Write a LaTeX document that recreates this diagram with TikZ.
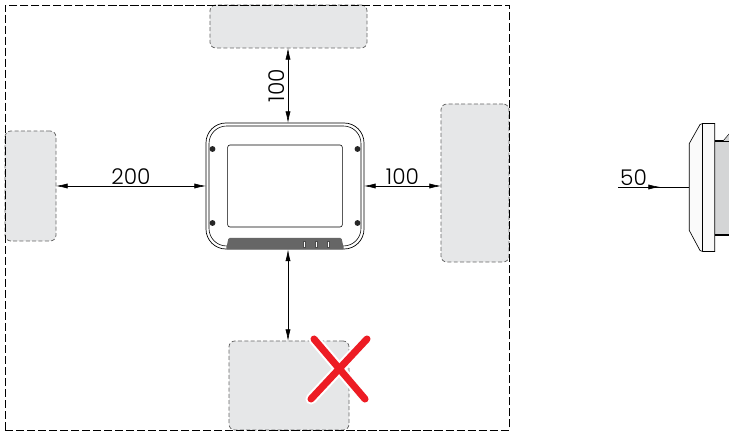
\documentclass[tikz,border=0pt]{standalone}
\usepackage{fontspec}
\setmainfont{Poppins Light}
\usetikzlibrary{positioning,calc,arrows.meta}
\definecolor{zonegray}{HTML}{E6E7E8}
\definecolor{bargray}{HTML}{666666}
\definecolor{bodygray}{HTML}{D4D5D6}
\definecolor{crossred}{HTML}{ED1C24}
\tikzset{
    obstacle/.style={draw=black!60, fill=zonegray, dash pattern=on 3.4pt off 2pt, line width=0.65pt, rounded corners=5pt, inner sep=0pt, outer sep=0pt},
    measure/.style={line width=0.5pt, -{Latex[length=10pt,width=4.4pt]}},
    dimension/.style={line width=0.5pt, {Latex[length=10pt,width=4.4pt]}-{Latex[length=10pt,width=4.4pt]}},
    dimtext/.style={font=\fontsize{18.5}{18.5}\selectfont, inner sep=0pt},
    screw/.style={circle, fill=black!85, minimum size=5pt, inner sep=0pt}
}
\begin{document}
\begin{tikzpicture}[x=0.03cm, y=-0.03cm]
    \useasboundingbox (0,0) rectangle (729,431);

    % Surrounding objects
    \node [obstacle, minimum width=4.71cm, minimum height=1.29cm] (top) at (288.5,26.5) {};
    \node [obstacle, minimum width=1.53cm, minimum height=3.3cm] (left) at (30.5,186) {};
    \node [obstacle, minimum width=2.04cm, minimum height=4.74cm] (right) at (475,183) {};
    \node [obstacle, minimum width=3.6cm, minimum height=2.67cm] (bottom) at (289,385.5) {};

    % Clearance frame
    \node [draw, line width=0.7pt, dash pattern=on 7pt off 2.4pt, minimum width=15.12cm, minimum height=12.75cm, inner sep=0pt, outer sep=0pt] (frame) at (257,217.5) {};

    % Device front view
    \node [draw, fill=white, line width=0.6pt, rounded corners=17pt, minimum width=4.74cm, minimum height=3.78cm, inner sep=0pt, outer sep=0pt] (device) at (285,186) {};
    \node [draw, line width=0.5pt, rounded corners=15pt, minimum width=4.56cm, minimum height=3.6cm, inner sep=0pt, outer sep=0pt] (rim) at (285,186) {};
    \node [draw, line width=0.5pt, rounded corners=2pt, minimum width=3.44cm, minimum height=2.46cm, inner sep=0pt] (display) at (285,186) {};
    \node [screw] (screwa) at (212.5,149) {};
    \node [screw] (screwb) at (357.5,149) {};
    \node [screw] (screwc) at (212.5,223) {};
    \node [screw] (screwd) at (357.5,223) {};
    \fill [bargray, rounded corners=1pt] (226,249.5) -- (228.5,238) -- (341.5,238) -- (344,249.5) -- cycle;
    \foreach \x in {304,316,328} {
        \node [draw=black!70, fill=white, line width=0.3pt, minimum width=0.07cm, minimum height=0.18cm, inner sep=0pt] at (\x,244.5) {};
    }

    % Clearances
    \coordinate (devicetop) at (288,123);
    \coordinate (devicebase) at (288,249.5);
    \draw [dimension] (top.south -| devicetop) -- (devicetop);
    \node [dimtext, rotate=90] (toplabel) at (277,85.5) {100};
    \draw [dimension] (left.east |- device.west) -- (device.west) node [midway, above=1pt, dimtext] {200};
    \draw [dimension] (device.east) -- (right.west |- device.east) node [midway, above=1pt, dimtext] {100};
    \draw [dimension] (devicebase) -- (bottom.north -| devicebase);

    % Red cross
    \coordinate (crossa) at (314,339);
    \coordinate (crossb) at (365,399);
    \coordinate (crossc) at (367,339);
    \coordinate (crossd) at (311,399);
    \draw [white, line width=9.5pt, line cap=round] (crossa) -- (crossb) (crossc) -- (crossd);
    \draw [crossred, line width=6pt, line cap=round] (crossa) -- (crossb) (crossc) -- (crossd);

    % Side view
    \fill [bodygray] (714.7,141) rectangle (729,235);
    \draw [line width=1pt] (714.7,141) -- (729,141) (714.7,235) -- (729,235);
    \fill [bodygray] (723,141) -- (729,134) -- (729,141) -- cycle;
    \draw [line width=0.4pt] (723,141) -- (729,134);
    \draw [fill=black!2, line width=0.55pt] (714.7,123.5) -- (702.7,123.5) -- (700,124.5) -- (689.3,143.5) -- (689.3,230.5) -- (700,250.5) -- (702.7,251.5) -- (714.7,251.5) -- cycle;
    \draw [line width=0.45pt] (702.7,123.5) -- (702.7,251.5);
    \coordinate (sidestart) at (618,187);
    \coordinate (sidetip) at (660,187);
    \coordinate (sideface) at (689.3,187);
    \draw [line width=0.5pt] (sidestart) -- (sideface);
    \draw [measure] (sidestart) -- (sidetip);
    \node [dimtext, above=1pt of sidestart, anchor=south west, xshift=0.06cm] (sidelabel) {50};
\end{tikzpicture}
\end{document}
